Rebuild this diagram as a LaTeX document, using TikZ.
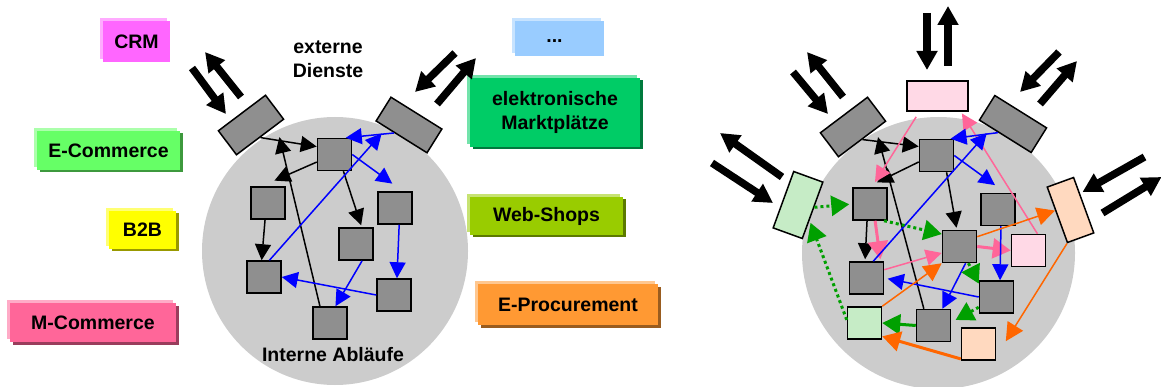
\documentclass[tikz,border=0pt]{standalone}
\usepackage{fontspec}
\setmainfont{Liberation Sans}
\usetikzlibrary{arrows.meta,shadows,calc}
\definecolor{crm}{HTML}{FF66FF}
\definecolor{ecom}{HTML}{66FF66}
\definecolor{btob}{HTML}{FFFF00}
\definecolor{mcom}{HTML}{FF6699}
\definecolor{misc}{HTML}{99CCFF}
\definecolor{markt}{HTML}{00CC66}
\definecolor{shops}{HTML}{99CC00}
\definecolor{procure}{HTML}{FF9933}
\definecolor{cloud}{HTML}{CCCCCC}
\definecolor{unit}{HTML}{8F8F8F}
\definecolor{rosa}{HTML}{FFD9E6}
\definecolor{mint}{HTML}{C6ECC6}
\definecolor{peach}{HTML}{FFD9BF}
\definecolor{lblue}{HTML}{0000FF}
\definecolor{lpink}{HTML}{FF6699}
\definecolor{lgreen}{HTML}{00A000}
\definecolor{lorange}{HTML}{FF6600}
\begin{document}
\begin{tikzpicture}[x=1pt,y=-1pt, font=\fontsize{19.5}{24}\selectfont\bfseries,
  tag/.style={fill=#1, inner sep=0pt, align=center,
    general shadow={fill=#1!55!white, shadow xshift=-3pt, shadow yshift=3pt}},
  deep/.style={general shadow={fill=#1!60!black, shadow xshift=2.5pt, shadow yshift=-2.5pt}},
  box/.style={draw, line width=1.5pt, fill=#1, minimum width=34pt, minimum height=32pt, inner sep=0pt},
  box/.default=unit,
  svc/.style={draw, line width=1.5pt, fill=#1, inner sep=0pt},
  svc/.default=unit,
  fat/.style={line width=7.5pt, -{Triangle[length=19pt,width=20pt]}},
  link/.style={line width=1.5pt, -{Triangle[length=16pt,width=16pt]}},
  thk/.style={line width=3pt, -{Triangle[length=18pt,width=20pt]}},
  dots/.style={line width=3pt, dash pattern=on 3pt off 3pt, -{Triangle[length=18pt,width=20pt]}}]
\useasboundingbox (0,0) rectangle (1161,387);

% the two clouds
\fill[cloud] (335,251) ellipse [x radius=133pt, y radius=134pt];
\fill[cloud] (938.5,253) ellipse [x radius=136.5pt, y radius=136pt];

% fields of application
\node[tag=crm, minimum width=67pt, minimum height=41pt] (crm) at (136.5,41.5) {CRM};
\node[deep=ecom, tag=ecom, minimum width=143pt, minimum height=39pt] (ecom) at (108.5,150.5) {E-Commerce};
\node[deep=btob, tag=btob, minimum width=67pt, minimum height=38pt] (btob) at (142.5,230) {B2B};
\node[deep=mcom, tag=mcom, minimum width=166pt, minimum height=39pt] (mcom) at (93,322.5) {M-Commerce};
\node[tag=misc, minimum width=89pt, minimum height=35pt, text height=9pt, text depth=0pt] (misc) at (559.5,38.5) {...\hspace{10pt}};
\node[deep=markt, tag=markt, minimum width=170pt, minimum height=69pt] (markt) at (555,112.5) {elektronische\\Marktplätze};
\node[deep=shops, tag=shops, minimum width=153pt, minimum height=38pt] (shops) at (546.5,216) {Web-Shops};
\node[deep=procure, tag=procure, minimum width=180pt, minimum height=41pt] (procure) at (568,304.5) {E-Procurement};

\node[align=center] (ext) at (328,59) {externe\\Dienste};
\node (intern) at (333,355) {Interne Abläufe};

% left: services and processes
\node[svc, minimum width=59pt, minimum height=30pt, rotate=37] (eL) at (251,125) {};
\node[svc, minimum width=60pt, minimum height=28pt, rotate=-32] (eR) at (409,125) {};
\node[box] (s1) at (334.5,154.5) {};
\node[box] (s2) at (268,203) {};
\node[box] (s3) at (395,208) {};
\node[box] (s4) at (356,244) {};
\node[box] (s5) at (264,277) {};
\node[box] (s6) at (394,295) {};
\node[box] (s7) at (330,323) {};

\draw[fat] ($(eL)+(-59,-57)$) -- ($(eL)+(-25,-11)$);
\draw[fat] ($(eL)+(-10,-28)$) -- ($(eL)+(-46,-73)$);
\draw[fat] ($(eR)+(46,-72)$) -- ($(eR)+(6,-33)$);
\draw[fat] ($(eR)+(28,-21)$) -- ($(eR)+(67,-67)$);

\draw[link] (eL.south) -- (s1.156);
\draw[link, shorten >=14pt] (s1.-157) -- (s2.111);
\draw[link, shorten >=12pt] (s7.121) -- (eL.-38);
\draw[link] (s2.-100) -- (s5.98);
\draw[link, shorten >=2pt] (s1.-62) -- (s4.71);
\draw[link, lblue] (eR.-120) -- (s1.56);
\draw[link, lblue, shorten >=7pt] (s5.72) -- (eR.-140);
\draw[link, lblue, shorten >=13pt] (s1.east) -- (s3.65);
\draw[link, lblue] (s3.-76) -- (s6.80);
\draw[link, lblue] (s6.west) -- (s5.east);
\draw[link, lblue] (s4.-70) -- (s7.72);

% right: the same with integrated applications
\node[svc, minimum width=59pt, minimum height=30pt, rotate=37] (gL) at (853,127) {};
\node[svc, minimum width=61pt, minimum height=29pt, rotate=-32] (gR) at (1013,124) {};
\node[svc=rosa, minimum width=61pt, minimum height=30pt] (pT) at (937.5,96) {};
\node[svc=mint, minimum width=31pt, minimum height=60pt, rotate=-20] (gG) at (798,205) {};
\node[svc=peach, minimum width=28pt, minimum height=59pt, rotate=20] (gO) at (1070.5,210) {};
\node[box] (r1) at (936.5,155.5) {};
\node[box] (r2) at (870,204) {};
\node[box] (r3) at (998,209.5) {};
\node[box] (r4) at (959.5,246.5) {};
\node[box=rosa] (r5) at (1028.5,250.5) {};
\node[box] (r6) at (866.5,278) {};
\node[box] (r7) at (996.5,297) {};
\node[box=mint] (r8) at (864.5,323) {};
\node[box] (r9) at (933.5,325.5) {};
\node[box=peach] (r10) at (978.5,344) {};

\draw[fat] ($(gL)+(-60,-55)$) -- ($(gL)+(-25,-13)$);
\draw[fat] ($(gL)+(-10,-30)$) -- ($(gL)+(-46,-75)$);
\draw[fat] ($(gR)+(46,-72)$) -- ($(gR)+(7,-32)$);
\draw[fat] ($(gR)+(27,-20)$) -- ($(gR)+(64,-63)$);
\draw[fat] ($(pT)+(-10.5,-83)$) -- ($(pT)+(-10.5,-26)$);
\draw[fat] ($(pT)+(10.5,-30)$) -- ($(pT)+(10.5,-90)$);
\draw[fat] ($(gG)+(-16,-28)$) -- ($(gG)+(-78,-72)$);
\draw[fat] ($(gG)+(-86,-42)$) -- ($(gG)+(-25,-2)$);
\draw[fat] ($(gO)+(74,-53)$) -- ($(gO)+(12,-18)$);
\draw[fat] ($(gO)+(32,3)$) -- ($(gO)+(91,-33)$);

\draw[link] (gL.south) -- (r1.153);
\draw[link, shorten >=11pt] (r1.-160) -- (r2.100);
\draw[link, shorten >=8pt] (r9.120) -- (gL.-43);
\draw[link, shorten >=2pt] (r2.-100) -- (r6.95);
\draw[link, shorten >=2pt] (r1.-59) -- (r4.99);

\draw[link, lpink, shorten <=6pt, shorten >=6pt] (pT.-139) -- (r2.84);
\draw[link, lpink, shorten >=2pt] (r5.62) -- (pT.-34);
\draw[thk, lpink, shorten >=2pt] (r2.-73) -- (r6.50);
\draw[link, lpink] (r6.25) -- (r4.200);
\draw[thk, lpink] (r4.east) -- (r5.west);

\draw[link, lblue] (gR.-118) -- (r1.50);
\draw[link, lblue, shorten >=6.5pt] (r6.68) -- (gR.-137);
\draw[link, lblue, shorten >=13pt] (r1.east) -- (r3.66);
\draw[link, lblue] (r3.-80) -- (r7.78);
\draw[link, lblue, shorten >=3.5pt] (r7.west) -- (r6.east);
\draw[link, lblue] (r4.-70) -- (r9.62);

\draw[dots, lgreen, shorten >=3pt] (gG.12) -- (r2.west);
\draw[dots, lgreen, shorten >=2.5pt] (r8.170) -- (gG.-33);
\draw[dots, lgreen] (r2.-50) -- (r4.145);
\draw[dots, lgreen] (r4.-62) -- (r7.143);
\draw[dots, lgreen, shorten >=5pt] (r7.-150) -- (r9.10);
\draw[thk, lgreen] (r9.west) -- (r8.east);

\draw[link, lorange, -{Triangle[length=18pt,width=18pt]}] (r4.29) -- (gO.162);
\draw[link, lorange, -{Triangle[length=18pt,width=18pt]}] (r8.north east) -- (r4.south west);
\draw[link, lorange, -{Triangle[length=18pt,width=18pt]}, shorten >=18pt] (gO.south west) -- (r10.-35);
\draw[thk, lorange] (r10.-140) -- (r8.-37);
\end{tikzpicture}
\end{document}
